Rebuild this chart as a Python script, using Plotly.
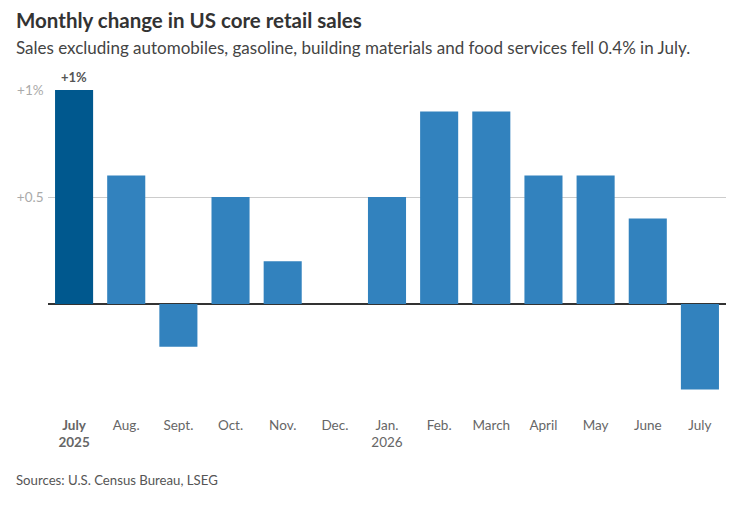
import plotly.graph_objects as go

months = ["July 2025", "Aug.", "Sept.", "Oct.", "Nov.", "Dec.", "Jan. 2026",
          "Feb.", "March", "April", "May", "June", "July"]
tick_labels = ["<b>July</b><br><b>2025</b>", "Aug.", "Sept.", "Oct.", "Nov.", "Dec.",
               "Jan.<br>2026", "Feb.", "March", "April", "May", "June", "July"]
values = [1.0, 0.6, -0.2, 0.5, 0.2, 0.0, 0.5, 0.9, 0.9, 0.6, 0.6, 0.4, -0.4]
ytick_vals = [0, 0.5, 1]
ytick_text = ["", "+0.5 ", "+1% "]

colors = ["#00588E"] + ["#3282BE"] * (len(values) - 1)

FONT = "Lato"
OFF = 8  # page body margin
W, H = 756 - 2 * OFF, 505 - 2 * OFF
# target plot area in window pixels: left 48, right 726, top 90, bottom 405
ML = 48 - OFF
MR = W - (726 - OFF)
MT = 90 - OFF
MB = H - (405 - OFF)
PW = W - ML - MR
PH = H - MT - MB


def px_x(x):
    return (x - OFF - ML) / PW


def px_y(y):
    return (H - MB - (y - OFF)) / PH


fig = go.Figure()
fig.add_trace(go.Bar(x=months, y=values, marker_color=colors, marker_line_width=0,
                     hoverinfo="skip"))

fig.add_annotation(x=months[0], y=values[0], text="<b>+1%</b>", showarrow=False,
                   yanchor="bottom", yshift=3, font=dict(family=FONT, size=13, color="#555555"))

fig.update_layout(
    width=W, height=H,
    margin=dict(l=ML, r=MR, t=MT, b=MB, autoexpand=False),
    plot_bgcolor="white", paper_bgcolor="white",
    bargap=0.27,
    showlegend=False,
    font=dict(family=FONT, color="#666666"),
)

fig.add_annotation(xref="paper", yref="paper", x=px_x(14), y=px_y(20),
                   text="<b>Monthly change in US core retail sales</b>",
                   showarrow=False, xanchor="left", yanchor="middle",
                   font=dict(family=FONT, size=20.5, color="#333333"))
fig.add_annotation(xref="paper", yref="paper", x=px_x(14), y=px_y(47),
                   text="Sales excluding automobiles, gasoline, building materials and food services fell 0.4% in July.",
                   showarrow=False, xanchor="left", yanchor="middle",
                   font=dict(family=FONT, size=17, color="#444444"))
fig.add_annotation(xref="paper", yref="paper", x=px_x(14), y=px_y(480),
                   text="Sources: U.S. Census Bureau, LSEG",
                   showarrow=False, xanchor="left", yanchor="middle",
                   font=dict(family=FONT, size=13.2, color="#555555"))

fig.update_xaxes(tickvals=months, ticktext=tick_labels, showgrid=False, showline=False,
                 ticks="", automargin=False, ticklabelstandoff=10,
                 tickfont=dict(family=FONT, size=13.5, color="#666666"))
fig.update_yaxes(range=[-0.472, 1.0], tickvals=ytick_vals, ticktext=ytick_text,
                 showgrid=True, gridcolor="#CCCCCC", gridwidth=1, automargin=False,
                 zeroline=True, zerolinecolor="#333333", zerolinewidth=1.5,
                 ticks="", tickfont=dict(family=FONT, size=13.5, color="#AAAAAA"))

fig.write_html("out.html")
